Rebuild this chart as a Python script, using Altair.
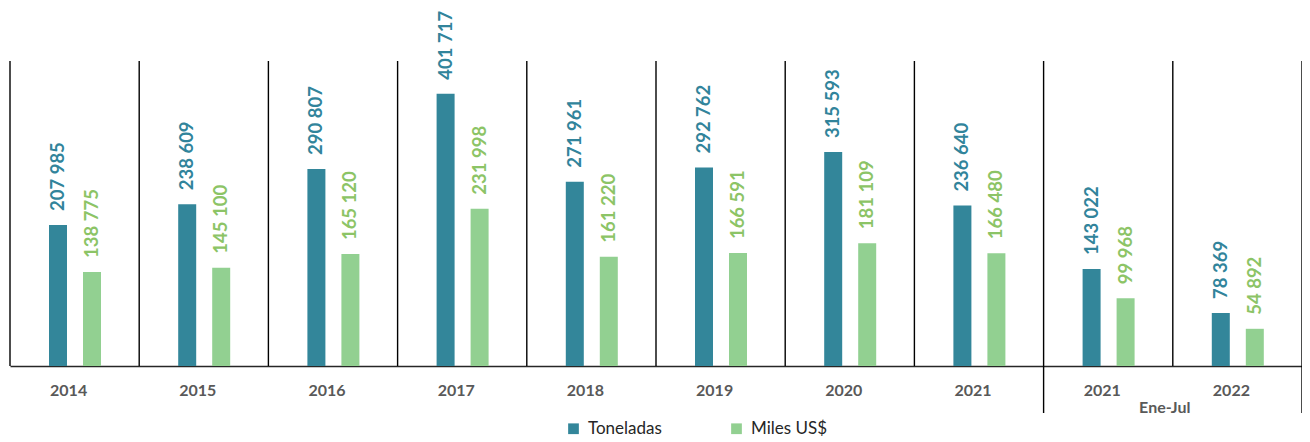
import altair as alt
import pandas as pd

periodos = ["2014", "2015", "2016", "2017", "2018", "2019", "2020", "2021",
            "2021 Ene-Jul", "2022 Ene-Jul"]
toneladas = [207985, 238609, 290807, 401717, 271961, 292762, 315593, 236640, 143022, 78369]
miles_usd = [138775, 145100, 165120, 231998, 161220, 166591, 181109, 166480, 99968, 54892]
series = ["Toneladas", "Miles US$"]
bar_colors = ["#33869A", "#92D091"]
label_colors = ["#31849B", "#8CC466"]
subtitulo = "Ene-Jul"

rows = []
for p, t, m in zip(periodos, toneladas, miles_usd):
    rows.append({"periodo": p, "serie": series[0], "valor": t})
    rows.append({"periodo": p, "serie": series[1], "valor": m})
df = pd.DataFrame(rows)
cats = pd.DataFrame({"periodo": periodos})
ytd_start = pd.DataFrame({"periodo": [periodos[-2]]})
last = pd.DataFrame({"periodo": [periodos[-1]]})
ytd_label = pd.DataFrame({"periodo": [periodos[-1]], "txt": [subtitulo]})

x_axis = alt.Axis(title=None, labelExpr="substring(datum.label, 0, 4)",
                  labelFont="Lato", labelFontWeight="bold", labelFontSize=16,
                  labelColor="#595959", labelPadding=16, labelOffset=-6,
                  ticks=False, domainColor="#262626", domainWidth=1.6,
                  grid=False, labelAngle=0)
x_scale = alt.Scale(paddingInner=0, paddingOuter=0)
y_scale = alt.Scale(domain=[0, 450000], nice=False)


def X(bp=None):
    if bp is None:
        return alt.X("periodo:N", sort=periodos, scale=x_scale, axis=x_axis)
    return alt.X("periodo:N", sort=periodos, scale=x_scale, axis=x_axis, bandPosition=bp)


xoff = alt.XOffset("serie:N", sort=series,
                   scale=alt.Scale(range=[39, 91], paddingInner=0.4706, paddingOuter=0))

bars = alt.Chart(df).mark_bar().encode(
    x=X(),
    xOffset=xoff,
    y=alt.Y("valor:Q", scale=y_scale, axis=None),
    color=alt.Color("serie:N", sort=series,
                    scale=alt.Scale(domain=series, range=bar_colors),
                    legend=alt.Legend(title=None)),
)

labels = alt.Chart(df).transform_calculate(
    lbl="replace(format(datum.valor, ','), ',', ' ')"
).mark_text(angle=270, align="left", baseline="middle", dx=14,
            font="Lato", fontWeight="bold", fontSize=18.5).encode(
    x=X(),
    xOffset=xoff,
    y=alt.Y("valor:Q", scale=y_scale, axis=None),
    text="lbl:N",
    color=alt.Color("serie:N", sort=series,
                    scale=alt.Scale(domain=series, range=label_colors),
                    legend=None),
)

seps = alt.Chart(cats).mark_rule(color="#000000", strokeWidth=1.4).encode(
    x=X(0), y=alt.value(0), y2=alt.value(305))

ytd_line = alt.Chart(ytd_start).mark_rule(color="#000000", strokeWidth=1.4).encode(
    x=X(0), y=alt.value(305), y2=alt.value(352))

right_line = alt.Chart(last).mark_rule(color="#000000", strokeWidth=1.4).encode(
    x=X(1), y=alt.value(0), y2=alt.value(352))

ytd_text = alt.Chart(ytd_label).mark_text(
    font="Lato", fontWeight="bold", fontSize=16, color="#595959",
    baseline="middle", align="center", dx=-8).encode(
    x=X(0), y=alt.value(347), text="txt:N")

chart = alt.layer(seps, ytd_line, right_line, bars, labels, ytd_text).resolve_scale(
    color="independent"
).properties(
    width=1292, height=305,
    padding={"left": 2, "top": 53, "right": 0, "bottom": 74},
    autosize=alt.AutoSizeParams(type="none"),
).configure_view(stroke=None).configure_legend(
    orient="none", legendX=555, legendY=359, direction="horizontal",
    symbolType="square", symbolSize=115, symbolStrokeWidth=0,
    labelFont="Lato", labelFontSize=17, labelColor="#262626",
    labelOffset=6, columnPadding=66,
)

chart.save("out.html", embed_options={"renderer": "svg", "actions": False})
